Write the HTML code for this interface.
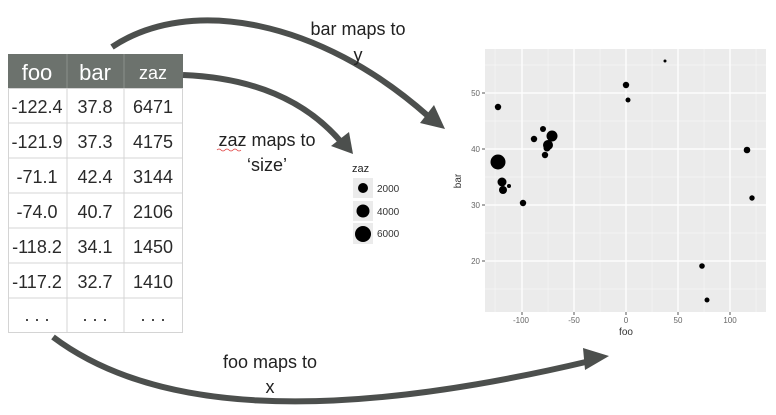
<!DOCTYPE html>
<html><head><meta charset="utf-8"><style>
html,body{margin:0;padding:0;background:#fff;}
svg{display:block;font-family:"Liberation Sans",sans-serif;}
</style></head><body>
<svg width="776" height="415" viewBox="0 0 776 415" xmlns="http://www.w3.org/2000/svg">
<!-- table -->
<rect x="8" y="54" width="175" height="34" fill="#6c726d"/>
<line x1="67" y1="54" x2="67" y2="88" stroke="#8a908b" stroke-width="1"/>
<line x1="124" y1="54" x2="124" y2="88" stroke="#8a908b" stroke-width="1"/>
<g fill="#fff" font-size="22" text-anchor="middle">
<text x="37" y="80">foo</text><text x="95" y="80">bar</text><text x="153" y="79" font-size="18">zaz</text>
</g>
<g stroke="#d4d4d4" stroke-width="1" fill="none">
<rect x="8.5" y="88.5" width="174" height="244"/>
<line x1="67" y1="88" x2="67" y2="332"/><line x1="124" y1="88" x2="124" y2="332"/>
<line x1="8" y1="123" x2="183" y2="123"/><line x1="8" y1="158" x2="183" y2="158"/>
<line x1="8" y1="193" x2="183" y2="193"/><line x1="8" y1="228" x2="183" y2="228"/>
<line x1="8" y1="263" x2="183" y2="263"/><line x1="8" y1="298" x2="183" y2="298"/>
</g>
<g fill="#2a2a2a" font-size="18" text-anchor="middle">
<text x="37" y="113">-122.4</text><text x="95" y="113">37.8</text><text x="153" y="113">6471</text>
<text x="37" y="148">-121.9</text><text x="95" y="148">37.3</text><text x="153" y="148">4175</text>
<text x="37" y="183">-71.1</text><text x="95" y="183">42.4</text><text x="153" y="183">3144</text>
<text x="37" y="218">-74.0</text><text x="95" y="218">40.7</text><text x="153" y="218">2106</text>
<text x="37" y="253">-118.2</text><text x="95" y="253">34.1</text><text x="153" y="253">1450</text>
<text x="37" y="288">-117.2</text><text x="95" y="288">32.7</text><text x="153" y="288">1410</text>
<text x="37" y="321">. . .</text><text x="95" y="321">. . .</text><text x="153" y="321">. . .</text>
</g>
<!-- plot -->
<rect x="485" y="49" width="281" height="263" fill="#ebebeb"/>
<g stroke="#f6f6f6" stroke-width="0.7">
<line x1="495" y1="49" x2="495" y2="312"/><line x1="548" y1="49" x2="548" y2="312"/><line x1="600" y1="49" x2="600" y2="312"/><line x1="652" y1="49" x2="652" y2="312"/><line x1="704" y1="49" x2="704" y2="312"/><line x1="756" y1="49" x2="756" y2="312"/>
<line x1="485" y1="65" x2="766" y2="65"/><line x1="485" y1="121" x2="766" y2="121"/><line x1="485" y1="177" x2="766" y2="177"/><line x1="485" y1="233" x2="766" y2="233"/><line x1="485" y1="289" x2="766" y2="289"/>
</g>
<g stroke="#fff" stroke-width="1.3">
<line x1="522" y1="49" x2="522" y2="312"/><line x1="574" y1="49" x2="574" y2="312"/><line x1="626" y1="49" x2="626" y2="312"/><line x1="678" y1="49" x2="678" y2="312"/><line x1="730" y1="49" x2="730" y2="312"/>
<line x1="485" y1="93" x2="766" y2="93"/><line x1="485" y1="149" x2="766" y2="149"/><line x1="485" y1="205" x2="766" y2="205"/><line x1="485" y1="261" x2="766" y2="261"/>
</g>
<g stroke="#555" stroke-width="1">
<line x1="482" y1="93" x2="485" y2="93"/><line x1="482" y1="149" x2="485" y2="149"/><line x1="482" y1="205" x2="485" y2="205"/><line x1="482" y1="261" x2="485" y2="261"/>
<line x1="522" y1="312" x2="522" y2="315"/><line x1="574" y1="312" x2="574" y2="315"/><line x1="626" y1="312" x2="626" y2="315"/><line x1="678" y1="312" x2="678" y2="315"/><line x1="730" y1="312" x2="730" y2="315"/>
</g>
<g fill="#666" font-size="8" text-anchor="end">
<text x="480" y="96">50</text><text x="480" y="152">40</text><text x="480" y="208">30</text><text x="480" y="264">20</text>
</g>
<g fill="#666" font-size="8" text-anchor="middle">
<text x="521" y="323">-100</text><text x="574" y="323">-50</text><text x="626" y="323">0</text><text x="678" y="323">50</text><text x="730" y="323">100</text>
</g>
<text x="626" y="335" font-size="10" fill="#333" text-anchor="middle">foo</text>
<text x="0" y="0" font-size="10" fill="#333" text-anchor="middle" transform="translate(461,181) rotate(-90)">bar</text>
<g fill="#000">
<circle cx="498" cy="107" r="3.2"/><circle cx="498" cy="162" r="7.5"/><circle cx="502" cy="182" r="4.5"/><circle cx="503" cy="190" r="4"/><circle cx="509" cy="186" r="2"/><circle cx="523" cy="203" r="3.2"/><circle cx="534" cy="139" r="3.2"/><circle cx="543" cy="129" r="3"/><circle cx="552" cy="136" r="5.5"/><circle cx="548" cy="145" r="5"/><circle cx="547" cy="148" r="3.5"/><circle cx="545" cy="155" r="3.2"/><circle cx="626" cy="85" r="3.2"/><circle cx="628" cy="100" r="2.5"/><circle cx="665" cy="61" r="1.5"/><circle cx="747" cy="150" r="3.3"/><circle cx="752" cy="198" r="2.7"/><circle cx="702" cy="266" r="2.8"/><circle cx="707" cy="300" r="2.5"/>
</g>
<!-- legend -->
<text x="352" y="172" font-size="11" fill="#222">zaz</text>
<rect x="353" y="178" width="20" height="20" fill="#ebebeb"/><rect x="353" y="201" width="20" height="20" fill="#ebebeb"/><rect x="353" y="223" width="20" height="21" fill="#ebebeb"/>
<circle cx="363" cy="188" r="5" fill="#000"/><circle cx="363" cy="211" r="6.5" fill="#000"/><circle cx="363" cy="234" r="8" fill="#000"/>
<g font-size="10" fill="#333"><text x="377" y="192">2000</text><text x="377" y="215">4000</text><text x="377" y="237">6000</text></g>
<!-- arrows -->
<g stroke="#4c4f4d" stroke-width="6" fill="none">
<path d="M112,47 C190,-5 320,20 428,116"/>
<path d="M183,75 C260,78 310,105 342,143"/>
<path d="M53,337 C150,410 320,425 590,361"/>
</g>
<g fill="#4c4f4d">
<polygon points="445,129 420,123 434,105"/>
<polygon points="353,154 331,146 349,132"/>
<polygon points="609,356 585,370 583,348"/>
</g>
<!-- labels -->
<g font-size="18" fill="#222" text-anchor="middle">
<text x="358" y="35">bar maps to</text><text x="358" y="61">y</text>
<text x="267" y="146">zaz maps to</text><text x="267" y="171">‘size’</text>
<text x="270" y="368">foo maps to</text><text x="270" y="393">x</text>
</g>
<path d="M217,150 q2,-2 4,0 t4,0 t4,0 t4,0 t4,0 t4,0" stroke="#e04040" stroke-width="0.8" fill="none"/>
</svg>
</body></html>
